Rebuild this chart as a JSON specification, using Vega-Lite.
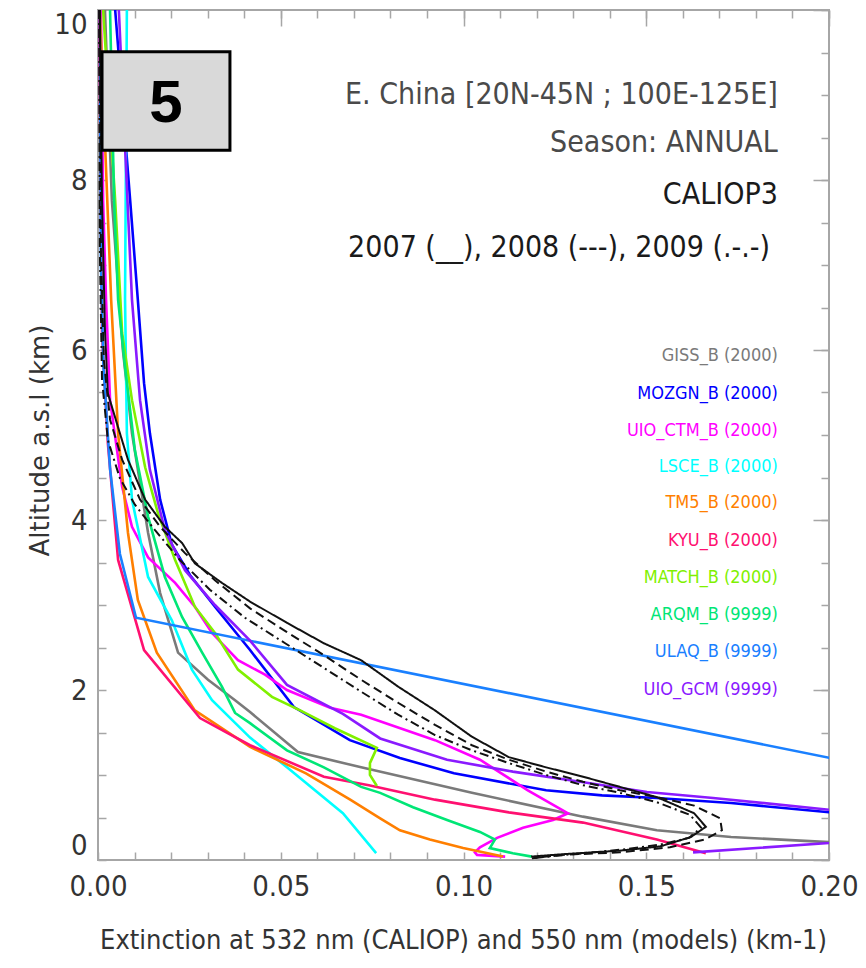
{
  "$schema": "https://vega.github.io/schema/vega-lite/v6.json",
  "autosize": {"type": "none"},
  "width": 731,
  "height": 850,
  "padding": {"left": 98, "top": 10, "right": 37, "bottom": 108},
  "background": "white",
  "config": {
    "view": {"stroke": "#a6a6a6", "strokeWidth": 2},
    "axis": {"grid": false, "tickColor": "#a6a6a6", "tickWidth": 1.5, "domain": false}
  },
  "datasets": {
    "models": [
      {"s": "GISS_B", "i": 1, "v": 0.0019, "a": 10},
      {"s": "GISS_B", "i": 2, "v": 0.0038, "a": 7.76},
      {"s": "GISS_B", "i": 3, "v": 0.0068, "a": 6.0},
      {"s": "GISS_B", "i": 4, "v": 0.0093, "a": 5.02},
      {"s": "GISS_B", "i": 5, "v": 0.0137, "a": 3.85},
      {"s": "GISS_B", "i": 6, "v": 0.017, "a": 3.14},
      {"s": "GISS_B", "i": 7, "v": 0.0219, "a": 2.44},
      {"s": "GISS_B", "i": 8, "v": 0.0301, "a": 2.12},
      {"s": "GISS_B", "i": 9, "v": 0.0375, "a": 1.88},
      {"s": "GISS_B", "i": 10, "v": 0.0416, "a": 1.74},
      {"s": "GISS_B", "i": 11, "v": 0.0547, "a": 1.27},
      {"s": "GISS_B", "i": 12, "v": 0.072, "a": 1.09},
      {"s": "GISS_B", "i": 13, "v": 0.1023, "a": 0.79},
      {"s": "GISS_B", "i": 14, "v": 0.1327, "a": 0.51},
      {"s": "GISS_B", "i": 15, "v": 0.1529, "a": 0.35},
      {"s": "GISS_B", "i": 16, "v": 0.1732, "a": 0.27},
      {"s": "GISS_B", "i": 17, "v": 0.2003, "a": 0.21},

      {"s": "MOZGN_B", "i": 1, "v": 0.0047, "a": 10},
      {"s": "MOZGN_B", "i": 2, "v": 0.0088, "a": 7.76},
      {"s": "MOZGN_B", "i": 3, "v": 0.0109, "a": 6.59},
      {"s": "MOZGN_B", "i": 4, "v": 0.0126, "a": 5.61},
      {"s": "MOZGN_B", "i": 5, "v": 0.0142, "a": 5.02},
      {"s": "MOZGN_B", "i": 6, "v": 0.017, "a": 4.24},
      {"s": "MOZGN_B", "i": 7, "v": 0.0202, "a": 3.71},
      {"s": "MOZGN_B", "i": 8, "v": 0.0252, "a": 3.35},
      {"s": "MOZGN_B", "i": 9, "v": 0.032, "a": 2.98},
      {"s": "MOZGN_B", "i": 10, "v": 0.0416, "a": 2.47},
      {"s": "MOZGN_B", "i": 11, "v": 0.0536, "a": 1.8},
      {"s": "MOZGN_B", "i": 12, "v": 0.0689, "a": 1.41},
      {"s": "MOZGN_B", "i": 13, "v": 0.0826, "a": 1.2},
      {"s": "MOZGN_B", "i": 14, "v": 0.0974, "a": 1.02},
      {"s": "MOZGN_B", "i": 15, "v": 0.1226, "a": 0.82},
      {"s": "MOZGN_B", "i": 16, "v": 0.1379, "a": 0.76},
      {"s": "MOZGN_B", "i": 17, "v": 0.1529, "a": 0.73},
      {"s": "MOZGN_B", "i": 18, "v": 0.1732, "a": 0.67},
      {"s": "MOZGN_B", "i": 19, "v": 0.2003, "a": 0.56},

      {"s": "UIO_CTM_B", "i": 1, "v": 0.0008, "a": 10},
      {"s": "UIO_CTM_B", "i": 2, "v": 0.0014, "a": 7.76},
      {"s": "UIO_CTM_B", "i": 3, "v": 0.0022, "a": 6.59},
      {"s": "UIO_CTM_B", "i": 4, "v": 0.0033, "a": 5.41},
      {"s": "UIO_CTM_B", "i": 5, "v": 0.0066, "a": 4.39},
      {"s": "UIO_CTM_B", "i": 6, "v": 0.0093, "a": 3.92},
      {"s": "UIO_CTM_B", "i": 7, "v": 0.0137, "a": 3.56},
      {"s": "UIO_CTM_B", "i": 8, "v": 0.0211, "a": 3.26},
      {"s": "UIO_CTM_B", "i": 9, "v": 0.0265, "a": 2.98},
      {"s": "UIO_CTM_B", "i": 10, "v": 0.0312, "a": 2.67},
      {"s": "UIO_CTM_B", "i": 11, "v": 0.0383, "a": 2.35},
      {"s": "UIO_CTM_B", "i": 12, "v": 0.0457, "a": 2.18},
      {"s": "UIO_CTM_B", "i": 13, "v": 0.0517, "a": 2.0},
      {"s": "UIO_CTM_B", "i": 14, "v": 0.0635, "a": 1.79},
      {"s": "UIO_CTM_B", "i": 15, "v": 0.072, "a": 1.71},
      {"s": "UIO_CTM_B", "i": 16, "v": 0.0922, "a": 1.41},
      {"s": "UIO_CTM_B", "i": 17, "v": 0.1045, "a": 1.18},
      {"s": "UIO_CTM_B", "i": 18, "v": 0.1176, "a": 0.82},
      {"s": "UIO_CTM_B", "i": 19, "v": 0.1286, "a": 0.55},
      {"s": "UIO_CTM_B", "i": 20, "v": 0.1245, "a": 0.47},
      {"s": "UIO_CTM_B", "i": 21, "v": 0.1163, "a": 0.38},
      {"s": "UIO_CTM_B", "i": 22, "v": 0.1092, "a": 0.26},
      {"s": "UIO_CTM_B", "i": 23, "v": 0.1045, "a": 0.15},
      {"s": "UIO_CTM_B", "i": 24, "v": 0.1031, "a": 0.09},
      {"s": "UIO_CTM_B", "i": 25, "v": 0.1037, "a": 0.06},
      {"s": "UIO_CTM_B", "i": 26, "v": 0.1114, "a": 0.04},

      {"s": "LSCE_B", "i": 1, "v": 0.0079, "a": 10},
      {"s": "LSCE_B", "i": 2, "v": 0.0074, "a": 6.6},
      {"s": "LSCE_B", "i": 3, "v": 0.0079, "a": 5.02},
      {"s": "LSCE_B", "i": 4, "v": 0.0093, "a": 4.24},
      {"s": "LSCE_B", "i": 5, "v": 0.0137, "a": 3.33},
      {"s": "LSCE_B", "i": 6, "v": 0.0202, "a": 2.82},
      {"s": "LSCE_B", "i": 7, "v": 0.0257, "a": 2.24},
      {"s": "LSCE_B", "i": 8, "v": 0.0312, "a": 1.88},
      {"s": "LSCE_B", "i": 9, "v": 0.0416, "a": 1.44},
      {"s": "LSCE_B", "i": 10, "v": 0.0517, "a": 1.09},
      {"s": "LSCE_B", "i": 11, "v": 0.067, "a": 0.55},
      {"s": "LSCE_B", "i": 12, "v": 0.0761, "a": 0.08},

      {"s": "TM5_B", "i": 1, "v": 0.0005, "a": 10},
      {"s": "TM5_B", "i": 2, "v": 0.0036, "a": 6.59},
      {"s": "TM5_B", "i": 3, "v": 0.0055, "a": 5.02},
      {"s": "TM5_B", "i": 4, "v": 0.0082, "a": 3.85},
      {"s": "TM5_B", "i": 5, "v": 0.0109, "a": 3.06},
      {"s": "TM5_B", "i": 6, "v": 0.0161, "a": 2.44},
      {"s": "TM5_B", "i": 7, "v": 0.0265, "a": 1.76},
      {"s": "TM5_B", "i": 8, "v": 0.0416, "a": 1.33},
      {"s": "TM5_B", "i": 9, "v": 0.0569, "a": 1.02},
      {"s": "TM5_B", "i": 10, "v": 0.069, "a": 0.71},
      {"s": "TM5_B", "i": 11, "v": 0.0772, "a": 0.49},
      {"s": "TM5_B", "i": 12, "v": 0.0826, "a": 0.35},
      {"s": "TM5_B", "i": 13, "v": 0.0908, "a": 0.24},
      {"s": "TM5_B", "i": 14, "v": 0.0999, "a": 0.14},
      {"s": "TM5_B", "i": 15, "v": 0.1108, "a": 0.04},

      {"s": "KYU_B", "i": 1, "v": 0.0003, "a": 10},
      {"s": "KYU_B", "i": 2, "v": 0.0011, "a": 6.2},
      {"s": "KYU_B", "i": 3, "v": 0.0027, "a": 4.9},
      {"s": "KYU_B", "i": 4, "v": 0.0055, "a": 3.53},
      {"s": "KYU_B", "i": 5, "v": 0.0126, "a": 2.47},
      {"s": "KYU_B", "i": 6, "v": 0.0279, "a": 1.67},
      {"s": "KYU_B", "i": 7, "v": 0.0416, "a": 1.35},
      {"s": "KYU_B", "i": 8, "v": 0.0618, "a": 0.98},
      {"s": "KYU_B", "i": 9, "v": 0.0741, "a": 0.88},
      {"s": "KYU_B", "i": 10, "v": 0.0922, "a": 0.71},
      {"s": "KYU_B", "i": 11, "v": 0.1124, "a": 0.56},
      {"s": "KYU_B", "i": 12, "v": 0.1327, "a": 0.44},
      {"s": "KYU_B", "i": 13, "v": 0.1529, "a": 0.24},
      {"s": "KYU_B", "i": 14, "v": 0.1663, "a": 0.08},

      {"s": "MATCH_B", "i": 1, "v": 0.0014, "a": 10},
      {"s": "MATCH_B", "i": 2, "v": 0.0047, "a": 7.76},
      {"s": "MATCH_B", "i": 3, "v": 0.0066, "a": 6.2},
      {"s": "MATCH_B", "i": 4, "v": 0.0093, "a": 5.41},
      {"s": "MATCH_B", "i": 5, "v": 0.0129, "a": 4.62},
      {"s": "MATCH_B", "i": 6, "v": 0.0164, "a": 4.08},
      {"s": "MATCH_B", "i": 7, "v": 0.0211, "a": 3.53},
      {"s": "MATCH_B", "i": 8, "v": 0.0265, "a": 2.98},
      {"s": "MATCH_B", "i": 9, "v": 0.032, "a": 2.67},
      {"s": "MATCH_B", "i": 10, "v": 0.0383, "a": 2.24},
      {"s": "MATCH_B", "i": 11, "v": 0.0476, "a": 1.92},
      {"s": "MATCH_B", "i": 12, "v": 0.0553, "a": 1.76},
      {"s": "MATCH_B", "i": 13, "v": 0.0648, "a": 1.55},
      {"s": "MATCH_B", "i": 14, "v": 0.0763, "a": 1.32},
      {"s": "MATCH_B", "i": 15, "v": 0.0744, "a": 1.14},
      {"s": "MATCH_B", "i": 16, "v": 0.0744, "a": 1.0},
      {"s": "MATCH_B", "i": 17, "v": 0.0763, "a": 0.87},

      {"s": "ARQM_B", "i": 1, "v": 0.0033, "a": 10},
      {"s": "ARQM_B", "i": 2, "v": 0.0044, "a": 7.76},
      {"s": "ARQM_B", "i": 3, "v": 0.0055, "a": 6.59},
      {"s": "ARQM_B", "i": 4, "v": 0.0074, "a": 5.8},
      {"s": "ARQM_B", "i": 5, "v": 0.0101, "a": 4.82},
      {"s": "ARQM_B", "i": 6, "v": 0.0137, "a": 4.04},
      {"s": "ARQM_B", "i": 7, "v": 0.0183, "a": 3.33},
      {"s": "ARQM_B", "i": 8, "v": 0.023, "a": 2.86},
      {"s": "ARQM_B", "i": 9, "v": 0.0285, "a": 2.44},
      {"s": "ARQM_B", "i": 10, "v": 0.0339, "a": 2.04},
      {"s": "ARQM_B", "i": 11, "v": 0.0375, "a": 1.73},
      {"s": "ARQM_B", "i": 12, "v": 0.0416, "a": 1.61},
      {"s": "ARQM_B", "i": 13, "v": 0.0517, "a": 1.29},
      {"s": "ARQM_B", "i": 14, "v": 0.0618, "a": 1.09},
      {"s": "ARQM_B", "i": 15, "v": 0.072, "a": 0.86},
      {"s": "ARQM_B", "i": 16, "v": 0.0772, "a": 0.79},
      {"s": "ARQM_B", "i": 17, "v": 0.0862, "a": 0.62},
      {"s": "ARQM_B", "i": 18, "v": 0.0955, "a": 0.47},
      {"s": "ARQM_B", "i": 19, "v": 0.1045, "a": 0.33},
      {"s": "ARQM_B", "i": 20, "v": 0.1086, "a": 0.24},
      {"s": "ARQM_B", "i": 21, "v": 0.1072, "a": 0.14},
      {"s": "ARQM_B", "i": 22, "v": 0.1135, "a": 0.08},
      {"s": "ARQM_B", "i": 23, "v": 0.1187, "a": 0.04},

      {"s": "ULAQ_B", "i": 1, "v": 0.0005, "a": 10},
      {"s": "ULAQ_B", "i": 2, "v": 0.0008, "a": 7.0},
      {"s": "ULAQ_B", "i": 3, "v": 0.0015, "a": 5.8},
      {"s": "ULAQ_B", "i": 4, "v": 0.0033, "a": 4.6},
      {"s": "ULAQ_B", "i": 5, "v": 0.006, "a": 3.6},
      {"s": "ULAQ_B", "i": 6, "v": 0.0104, "a": 2.85},
      {"s": "ULAQ_B", "i": 7, "v": 0.2003, "a": 1.2},

      {"s": "UIO_GCM", "i": 1, "v": 0.0057, "a": 10},
      {"s": "UIO_GCM", "i": 2, "v": 0.0093, "a": 6.59},
      {"s": "UIO_GCM", "i": 3, "v": 0.0115, "a": 5.41},
      {"s": "UIO_GCM", "i": 4, "v": 0.0142, "a": 4.59},
      {"s": "UIO_GCM", "i": 5, "v": 0.0183, "a": 3.88},
      {"s": "UIO_GCM", "i": 6, "v": 0.0238, "a": 3.41},
      {"s": "UIO_GCM", "i": 7, "v": 0.032, "a": 3.0},
      {"s": "UIO_GCM", "i": 8, "v": 0.0416, "a": 2.58},
      {"s": "UIO_GCM", "i": 9, "v": 0.0517, "a": 2.06},
      {"s": "UIO_GCM", "i": 10, "v": 0.067, "a": 1.72},
      {"s": "UIO_GCM", "i": 11, "v": 0.0772, "a": 1.43},
      {"s": "UIO_GCM", "i": 12, "v": 0.0955, "a": 1.18},
      {"s": "UIO_GCM", "i": 13, "v": 0.1135, "a": 1.04},
      {"s": "UIO_GCM", "i": 14, "v": 0.1319, "a": 0.92},
      {"s": "UIO_GCM", "i": 15, "v": 0.1502, "a": 0.8},
      {"s": "UIO_GCM", "i": 16, "v": 0.1683, "a": 0.73},
      {"s": "UIO_GCM", "i": 17, "v": 0.2003, "a": 0.59},
      {"s": "UIO_GCM", "i": 18, "v": 0.258, "a": 0.37},
      {"s": "UIO_GCM", "i": 19, "v": 0.1628, "a": 0.09}
    ],
    "caliop": [
      {"y": "2007", "i": 1, "v": 0.0005, "a": 10},
      {"y": "2007", "i": 2, "v": 0.0011, "a": 7.76},
      {"y": "2007", "i": 3, "v": 0.0019, "a": 6.24},
      {"y": "2007", "i": 4, "v": 0.0027, "a": 5.49},
      {"y": "2007", "i": 5, "v": 0.0055, "a": 5.09},
      {"y": "2007", "i": 6, "v": 0.0082, "a": 4.71},
      {"y": "2007", "i": 7, "v": 0.0129, "a": 4.24},
      {"y": "2007", "i": 8, "v": 0.0183, "a": 3.92},
      {"y": "2007", "i": 9, "v": 0.023, "a": 3.73},
      {"y": "2007", "i": 10, "v": 0.0265, "a": 3.49},
      {"y": "2007", "i": 11, "v": 0.0339, "a": 3.26},
      {"y": "2007", "i": 12, "v": 0.0416, "a": 3.04},
      {"y": "2007", "i": 13, "v": 0.0517, "a": 2.79},
      {"y": "2007", "i": 14, "v": 0.0618, "a": 2.55},
      {"y": "2007", "i": 15, "v": 0.072, "a": 2.35},
      {"y": "2007", "i": 16, "v": 0.0821, "a": 2.04},
      {"y": "2007", "i": 17, "v": 0.0922, "a": 1.76},
      {"y": "2007", "i": 18, "v": 0.1023, "a": 1.45},
      {"y": "2007", "i": 19, "v": 0.1124, "a": 1.21},
      {"y": "2007", "i": 20, "v": 0.1226, "a": 1.09},
      {"y": "2007", "i": 21, "v": 0.1327, "a": 0.98},
      {"y": "2007", "i": 22, "v": 0.1428, "a": 0.86},
      {"y": "2007", "i": 23, "v": 0.1529, "a": 0.74},
      {"y": "2007", "i": 24, "v": 0.1631, "a": 0.55},
      {"y": "2007", "i": 25, "v": 0.1663, "a": 0.39},
      {"y": "2007", "i": 26, "v": 0.1622, "a": 0.27},
      {"y": "2007", "i": 27, "v": 0.1538, "a": 0.16},
      {"y": "2007", "i": 28, "v": 0.1428, "a": 0.11},
      {"y": "2007", "i": 29, "v": 0.1278, "a": 0.07},
      {"y": "2007", "i": 30, "v": 0.1185, "a": 0.04},

      {"y": "2008", "i": 1, "v": 0.0005, "a": 10},
      {"y": "2008", "i": 2, "v": 0.0008, "a": 7.18},
      {"y": "2008", "i": 3, "v": 0.0016, "a": 5.88},
      {"y": "2008", "i": 4, "v": 0.0033, "a": 5.18},
      {"y": "2008", "i": 5, "v": 0.0066, "a": 4.71},
      {"y": "2008", "i": 6, "v": 0.0115, "a": 4.24},
      {"y": "2008", "i": 7, "v": 0.017, "a": 3.92},
      {"y": "2008", "i": 8, "v": 0.0238, "a": 3.61},
      {"y": "2008", "i": 9, "v": 0.032, "a": 3.29},
      {"y": "2008", "i": 10, "v": 0.0416, "a": 2.96},
      {"y": "2008", "i": 11, "v": 0.0517, "a": 2.68},
      {"y": "2008", "i": 12, "v": 0.0618, "a": 2.41},
      {"y": "2008", "i": 13, "v": 0.072, "a": 2.12},
      {"y": "2008", "i": 14, "v": 0.0821, "a": 1.85},
      {"y": "2008", "i": 15, "v": 0.0922, "a": 1.59},
      {"y": "2008", "i": 16, "v": 0.1023, "a": 1.35},
      {"y": "2008", "i": 17, "v": 0.1124, "a": 1.18},
      {"y": "2008", "i": 18, "v": 0.1226, "a": 1.04},
      {"y": "2008", "i": 19, "v": 0.1327, "a": 0.92},
      {"y": "2008", "i": 20, "v": 0.1428, "a": 0.82},
      {"y": "2008", "i": 21, "v": 0.1529, "a": 0.74},
      {"y": "2008", "i": 22, "v": 0.1631, "a": 0.64},
      {"y": "2008", "i": 23, "v": 0.1702, "a": 0.49},
      {"y": "2008", "i": 24, "v": 0.1707, "a": 0.35},
      {"y": "2008", "i": 25, "v": 0.166, "a": 0.24},
      {"y": "2008", "i": 26, "v": 0.1565, "a": 0.15},
      {"y": "2008", "i": 27, "v": 0.1428, "a": 0.09},
      {"y": "2008", "i": 28, "v": 0.1264, "a": 0.06},
      {"y": "2008", "i": 29, "v": 0.1187, "a": 0.02},

      {"y": "2009", "i": 1, "v": 0.0003, "a": 10},
      {"y": "2009", "i": 2, "v": 0.0005, "a": 7.18},
      {"y": "2009", "i": 3, "v": 0.0011, "a": 5.65},
      {"y": "2009", "i": 4, "v": 0.0027, "a": 4.94},
      {"y": "2009", "i": 5, "v": 0.006, "a": 4.49},
      {"y": "2009", "i": 6, "v": 0.0101, "a": 4.18},
      {"y": "2009", "i": 7, "v": 0.0156, "a": 3.88},
      {"y": "2009", "i": 8, "v": 0.0224, "a": 3.53},
      {"y": "2009", "i": 9, "v": 0.0306, "a": 3.18},
      {"y": "2009", "i": 10, "v": 0.0402, "a": 2.85},
      {"y": "2009", "i": 11, "v": 0.0512, "a": 2.55},
      {"y": "2009", "i": 12, "v": 0.0618, "a": 2.26},
      {"y": "2009", "i": 13, "v": 0.072, "a": 1.98},
      {"y": "2009", "i": 14, "v": 0.0821, "a": 1.71},
      {"y": "2009", "i": 15, "v": 0.0922, "a": 1.47},
      {"y": "2009", "i": 16, "v": 0.1023, "a": 1.29},
      {"y": "2009", "i": 17, "v": 0.1124, "a": 1.14},
      {"y": "2009", "i": 18, "v": 0.1226, "a": 1.0},
      {"y": "2009", "i": 19, "v": 0.1327, "a": 0.88},
      {"y": "2009", "i": 20, "v": 0.1428, "a": 0.79},
      {"y": "2009", "i": 21, "v": 0.1529, "a": 0.68},
      {"y": "2009", "i": 22, "v": 0.162, "a": 0.53},
      {"y": "2009", "i": 23, "v": 0.165, "a": 0.38},
      {"y": "2009", "i": 24, "v": 0.1617, "a": 0.26},
      {"y": "2009", "i": 25, "v": 0.1538, "a": 0.18},
      {"y": "2009", "i": 26, "v": 0.1428, "a": 0.12},
      {"y": "2009", "i": 27, "v": 0.1278, "a": 0.06},
      {"y": "2009", "i": 28, "v": 0.1187, "a": 0.02}
    ],
    "legend": [
      {"s": "GISS_B", "t": "GISS_B (2000)", "a": 5.93},
      {"s": "MOZGN_B", "t": "MOZGN_B (2000)", "a": 5.48},
      {"s": "UIO_CTM_B", "t": "UIO_CTM_B (2000)", "a": 5.05},
      {"s": "LSCE_B", "t": "LSCE_B (2000)", "a": 4.62},
      {"s": "TM5_B", "t": "TM5_B (2000)", "a": 4.2},
      {"s": "KYU_B", "t": "KYU_B (2000)", "a": 3.75},
      {"s": "MATCH_B", "t": "MATCH_B (2000)", "a": 3.32},
      {"s": "ARQM_B", "t": "ARQM_B (9999)", "a": 2.88},
      {"s": "ULAQ_B", "t": "ULAQ_B (9999)", "a": 2.45},
      {"s": "UIO_GCM", "t": "UIO_GCM (9999)", "a": 2.0}
    ],
    "header": [
      {"t": "E. China [20N-45N ; 100E-125E]", "v": 0.186, "a": 9.0},
      {"t": "Season: ANNUAL", "v": 0.186, "a": 8.44}
    ],
    "header2": [
      {"t": "CALIOP3", "v": 0.186, "a": 7.82},
      {"t": "2007 (__), 2008 (---), 2009 (.-.-)", "v": 0.1839, "a": 7.2}
    ],
    "panel": [
      {"t": "5", "v1": 0.0011, "v2": 0.0361, "a1": 9.51, "a2": 8.35, "vc": 0.0186, "ac": 8.93}
    ]
  },
  "resolve": {
    "scale": {"x": "shared", "y": "shared"},
    "axis": {"x": "independent", "y": "independent"}
  },
  "layer": [
    {
      "data": {"name": "models"},
      "mark": {"type": "line", "strokeWidth": 2.6, "clip": true},
      "encoding": {
        "x": {
          "field": "v", "type": "quantitative",
          "scale": {"domain": [0, 0.2], "nice": false, "zero": false},
          "axis": {
            "orient": "bottom", "values": [0, 0.05, 0.1, 0.15, 0.2], "format": ".2f",
            "ticks": false, "labelPadding": 12, "labelFlush": false, "labelOverlap": false,
            "labelFont": "Liberation Sans Narrow, DejaVu Sans Condensed, Liberation Sans",
            "labelFontSize": 29, "labelColor": "#333333",
            "title": "Extinction at 532 nm (CALIOP) and 550 nm (models) (km-1)",
            "titleFont": "Liberation Sans Narrow, DejaVu Sans Condensed, Liberation Sans",
            "titleFontSize": 27, "titleFontWeight": "normal", "titleColor": "#333333",
            "titleX": 365, "titleY": 80, "titleBaseline": "middle", "titleAlign": "center"
          }
        },
        "y": {
          "field": "a", "type": "quantitative",
          "scale": {"domain": [0, 10], "nice": false, "zero": false},
          "axis": {
            "orient": "left", "values": [0, 2, 4, 6, 8, 10],
            "ticks": false, "labelPadding": 11, "labelFlush": true,
            "labelFont": "Liberation Sans Narrow, DejaVu Sans Condensed, Liberation Sans",
            "labelFontSize": 29, "labelColor": "#333333",
            "title": "Altitude a.s.l (km)",
            "titleFont": "DejaVu Sans", "titleFontSize": 26, "titleFontWeight": "normal",
            "titleColor": "#333333",
            "titleX": -58, "titleY": 430, "titleAngle": -90, "titleBaseline": "middle", "titleAlign": "center"
          }
        },
        "color": {
          "field": "s", "type": "nominal", "legend": null,
          "scale": {
            "domain": ["GISS_B", "MOZGN_B", "UIO_CTM_B", "LSCE_B", "TM5_B", "KYU_B", "MATCH_B", "ARQM_B", "ULAQ_B", "UIO_GCM"],
            "range": ["#7a7a7a", "#0000ff", "#ff00ff", "#00ffff", "#ff7f00", "#ff1070", "#80f000", "#00e676", "#1a80ff", "#8a1aff"]
          }
        },
        "order": {"field": "i", "type": "quantitative"}
      }
    },
    {
      "data": {"name": "caliop"},
      "mark": {"type": "line", "strokeWidth": 2, "color": "#111111", "clip": true},
      "encoding": {
        "x": {
          "field": "v", "type": "quantitative",
          "scale": {"domain": [0, 0.2], "nice": false, "zero": false},
          "axis": {"orient": "top", "values": [0, 0.05, 0.1, 0.15, 0.2], "labels": false, "tickSize": 16, "offset": -16, "title": null}
        },
        "y": {
          "field": "a", "type": "quantitative",
          "scale": {"domain": [0, 10], "nice": false, "zero": false},
          "axis": {"orient": "right", "values": [0, 2, 4, 6, 8, 10], "labels": false, "tickSize": 16, "offset": -16, "title": null}
        },
        "strokeDash": {
          "field": "y", "type": "nominal", "legend": null,
          "scale": {"domain": ["2007", "2008", "2009"], "range": [[1, 0], [9, 5], [9, 4, 2, 4]]}
        },
        "order": {"field": "i", "type": "quantitative"}
      }
    },
    {
      "data": {"name": "header"},
      "mark": {"type": "text", "align": "right", "baseline": "middle", "font": "Liberation Sans Narrow, DejaVu Sans Condensed, Liberation Sans", "fontSize": 30, "color": "#4a4a4a"},
      "encoding": {
        "x": {
          "field": "v", "type": "quantitative",
          "scale": {"domain": [0, 0.2], "nice": false, "zero": false},
          "axis": {"orient": "bottom", "values": [0, 0.01, 0.02, 0.03, 0.04, 0.05, 0.06, 0.07, 0.08, 0.09, 0.1, 0.11, 0.12, 0.13, 0.14, 0.15, 0.16, 0.17, 0.18, 0.19, 0.2], "labels": false, "tickSize": 8, "offset": -8, "title": null}
        },
        "y": {
          "field": "a", "type": "quantitative",
          "scale": {"domain": [0, 10], "nice": false, "zero": false},
          "axis": {"orient": "left", "values": [0, 0.5, 1, 1.5, 2, 2.5, 3, 3.5, 4, 4.5, 5, 5.5, 6, 6.5, 7, 7.5, 8, 8.5, 9, 9.5, 10], "labels": false, "tickSize": 8, "offset": -8, "title": null}
        },
        "text": {"field": "t"}
      }
    },
    {
      "data": {"name": "header2"},
      "mark": {"type": "text", "align": "right", "baseline": "middle", "font": "Liberation Sans Narrow, DejaVu Sans Condensed, Liberation Sans", "fontSize": 30, "color": "#1a1a1a"},
      "encoding": {
        "x": {
          "field": "v", "type": "quantitative",
          "scale": {"domain": [0, 0.2], "nice": false, "zero": false},
          "axis": {"orient": "top", "values": [0, 0.01, 0.02, 0.03, 0.04, 0.05, 0.06, 0.07, 0.08, 0.09, 0.1, 0.11, 0.12, 0.13, 0.14, 0.15, 0.16, 0.17, 0.18, 0.19, 0.2], "labels": false, "tickSize": 8, "offset": -8, "title": null}
        },
        "y": {
          "field": "a", "type": "quantitative",
          "scale": {"domain": [0, 10], "nice": false, "zero": false},
          "axis": {"orient": "right", "values": [0, 0.5, 1, 1.5, 2, 2.5, 3, 3.5, 4, 4.5, 5, 5.5, 6, 6.5, 7, 7.5, 8, 8.5, 9, 9.5, 10], "labels": false, "tickSize": 8, "offset": -8, "title": null}
        },
        "text": {"field": "t"}
      }
    },
    {
      "data": {"name": "legend"},
      "mark": {"type": "text", "align": "right", "baseline": "middle", "font": "Liberation Sans Narrow, DejaVu Sans Condensed, Liberation Sans", "fontSize": 18},
      "encoding": {
        "x": {"datum": 0.186, "type": "quantitative", "scale": {"domain": [0, 0.2], "nice": false, "zero": false}, "axis": null},
        "y": {"field": "a", "type": "quantitative", "scale": {"domain": [0, 10], "nice": false, "zero": false}, "axis": null},
        "color": {"field": "s", "type": "nominal", "legend": null},
        "text": {"field": "t"}
      }
    },
    {
      "data": {"name": "panel"},
      "mark": {"type": "rect", "fill": "#d9d9d9", "stroke": "#000000", "strokeWidth": 3},
      "encoding": {
        "x": {"field": "v1", "type": "quantitative", "scale": {"domain": [0, 0.2], "nice": false, "zero": false}, "axis": null},
        "x2": {"field": "v2"},
        "y": {"field": "a1", "type": "quantitative", "scale": {"domain": [0, 10], "nice": false, "zero": false}, "axis": null},
        "y2": {"field": "a2"}
      }
    },
    {
      "data": {"name": "panel"},
      "mark": {"type": "text", "align": "center", "baseline": "middle", "font": "Liberation Sans", "fontWeight": "bold", "fontSize": 60, "color": "#000000", "dy": 3},
      "encoding": {
        "x": {"field": "vc", "type": "quantitative", "scale": {"domain": [0, 0.2], "nice": false, "zero": false}, "axis": null},
        "y": {"field": "ac", "type": "quantitative", "scale": {"domain": [0, 10], "nice": false, "zero": false}, "axis": null},
        "text": {"field": "t"}
      }
    }
  ]
}
